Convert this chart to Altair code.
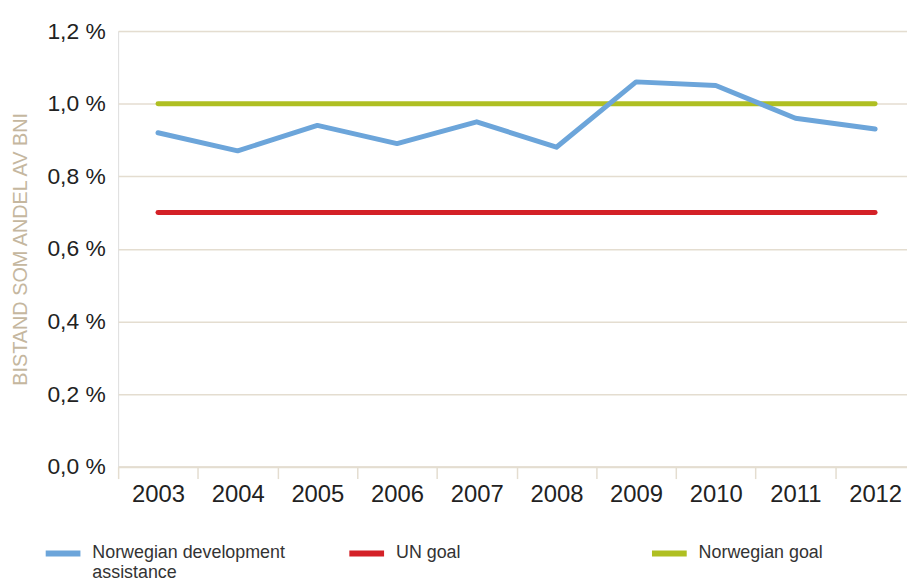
import altair as alt
import pandas as pd

years = [2003, 2004, 2005, 2006, 2007, 2008, 2009, 2010, 2011, 2012]
norway_aid = [0.92, 0.87, 0.94, 0.89, 0.95, 0.88, 1.06, 1.05, 0.96, 0.93]
un_goal = [0.7] * 10
norway_goal = [1.0] * 10

series_names = ["Norwegian development assistance", "UN goal", "Norwegian goal"]
series_colors = ["#6ca5da", "#d42127", "#afbf22"]
y_ticks = [0.0, 0.2, 0.4, 0.6, 0.8, 1.0, 1.2]
x_axis_values = [2002.5, 2003, 2003.5, 2004, 2004.5, 2005, 2005.5, 2006, 2006.5,
                 2007, 2007.5, 2008, 2008.5, 2009, 2009.5, 2010, 2010.5, 2011,
                 2011.5, 2012]

FONT = "Liberation Sans"
GRID = "#e4ddd0"

def make_df(vals, name):
    return pd.DataFrame({"year": years, "value": vals, "series": name})

legend_pos = [(-76, 506), (230, 506), (535, 506)]

def layer_for(vals, idx):
    name = series_names[idx]
    lx, ly = legend_pos[idx]
    return alt.Chart(make_df(vals, name)).mark_line(
        strokeWidth=5, strokeCap="round", strokeJoin="round"
    ).encode(
        x=alt.X("year:Q",
                scale=alt.Scale(domain=[2002.5, 2012.4], nice=False, zero=False),
                axis=alt.Axis(
                    values=x_axis_values,
                    title=None,
                    grid=False,
                    domainColor=GRID,
                    domainWidth=2,
                    tickColor=GRID,
                    tickWidth=1.5,
                    tickSize=12,
                    tickOpacity=alt.condition("datum.value % 1 != 0", alt.value(1), alt.value(0)),
                    labelExpr="datum.value % 1 == 0 ? '' + datum.value : ''",
                    labelFont=FONT,
                    labelFontSize=24,
                    labelColor="#222222",
                    labelPadding=4,
                    labelOverlap=False,
                    labelFlush=False,
                )),
        y=alt.Y("value:Q",
                scale=alt.Scale(domain=[0, 1.2], nice=False),
                axis=alt.Axis(
                    values=y_ticks,
                    title="BISTAND SOM ANDEL AV BNI",
                    titleFont=FONT,
                    titleFontSize=20,
                    titleFontWeight="normal",
                    titleColor="#c5b79f",
                    titlePadding=17,
                    labelExpr="replace(format(datum.value, '.1f'), '.', ',') + ' %'",
                    labelFont=FONT,
                    labelFontSize=23,
                    labelColor="#222222",
                    labelPadding=13,
                    ticks=False,
                    domain=False,
                    gridColor=GRID,
                    gridWidth=1.5,
                )),
        color=alt.Color("series:N",
                        scale=alt.Scale(domain=[name], range=[series_colors[idx]]),
                        legend=alt.Legend(
                            title=None,
                            orient="none",
                            legendX=lx,
                            legendY=ly,
                            symbolType="stroke",
                            symbolSize=1225,
                            symbolStrokeWidth=6,
                            labelFont=FONT,
                            labelFontSize=18,
                            labelColor="#333333",
                            labelOffset=9,
                            labelLimit=400,
                            labelExpr="datum.label == 'Norwegian development assistance' ? ['Norwegian development', 'assistance'] : datum.label",
                        )),
    )

chart = alt.layer(
    layer_for(norway_goal, 2),
    layer_for(un_goal, 1),
    layer_for(norway_aid, 0),
).resolve_scale(color="independent").properties(
    width=795, height=439,
    padding={"left": 2, "top": 10, "right": 0, "bottom": 0},
).configure_view(stroke=None).configure(background="white")

chart.save("out.html", embed_options={"renderer": "svg", "actions": False})
